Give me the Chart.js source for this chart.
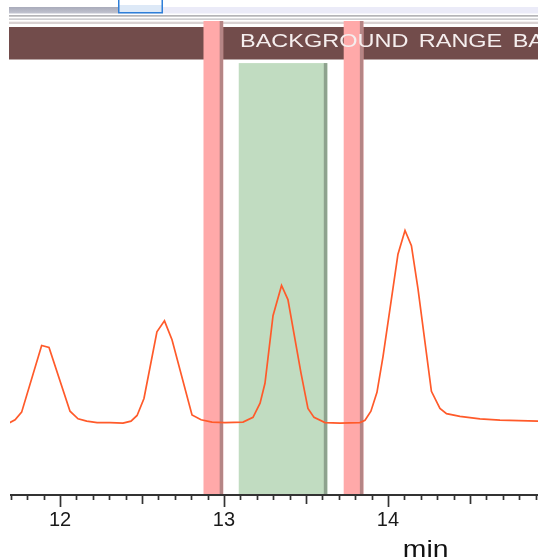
<!DOCTYPE html>
<html>
<head>
<meta charset="utf-8">
<script src="https://cdn.jsdelivr.net/npm/chart.js@4.4.1/dist/chart.umd.min.js"></script>
<style>
html,body{margin:0;padding:0;background:#fff;}
#wrap{width:538px;height:560px;position:relative;}
</style>
</head>
<body>
<div id="wrap"><canvas id="c" width="538" height="560"></canvas></div>
<script>
// retention time (min)
const times = [11.689, 11.726, 11.766, 11.888, 11.933, 12.061, 12.110, 12.163, 12.226, 12.305,
  12.384, 12.433, 12.470, 12.512, 12.591, 12.637, 12.683, 12.805, 12.860, 12.927,
  13.006, 13.116, 13.177, 13.220, 13.250, 13.299, 13.351, 13.390, 13.470, 13.512,
  13.549, 13.616, 13.707, 13.829, 13.860, 13.896, 13.933, 13.970, 14.061, 14.104,
  14.143, 14.183, 14.265, 14.317, 14.357, 14.439, 14.561, 14.683, 14.915];
// signal intensity (relative)
const intensity = [15.0, 15.7, 17.3, 31.4, 31.0, 17.5, 15.9, 15.4, 15.1, 15.1,
  15.0, 15.4, 16.6, 20.2, 34.3, 36.6, 32.6, 16.7, 15.7, 15.2,
  15.1, 15.2, 16.2, 19.2, 23.4, 37.7, 44.1, 41.1, 25.5, 18.1,
  16.2, 15.1, 15.0, 15.1, 15.6, 17.5, 21.5, 29.1, 50.7, 55.7,
  52.5, 43.4, 21.7, 18.1, 17.0, 16.4, 15.9, 15.6, 15.4];
// background range bands (start, end) in min
const backgroundBands = [[12.875, 12.995], [13.73, 13.85]];
// integration (peak) range band
const peakBands = [[13.09, 13.63]];
// major tick labels
const majorTicks = [12, 13, 14];
const bandTitle = 'BACKGROUND RANGE BAND';
const axisTitle = 'min';

const FONT = "'Liberation Sans', Arial, sans-serif";
const X_MIN = 11.695, X_MAX = 14.915;
const PEAK_BAND_TOP = 91.1; // y-value where the green band starts

const decor = {
  id: 'decor',
  beforeDraw(chart) {
    const ctx = chart.ctx;
    ctx.save();
    ctx.fillStyle = '#ffffff';
    ctx.fillRect(0, 0, chart.width, chart.height);
    // toolbar strip
    const g = ctx.createLinearGradient(0, 7, 0, 13.5);
    g.addColorStop(0, '#a9abba');
    g.addColorStop(1, '#c2c4d0');
    ctx.fillStyle = g;
    ctx.fillRect(9, 7, 109, 6.5);
    ctx.fillStyle = '#ebebf8';
    ctx.fillRect(163, 7, 375, 6.5);
    ctx.fillStyle = '#dde9f7';
    ctx.fillRect(118, 5, 45, 8.5);
    ctx.strokeStyle = '#2f7fd8';
    ctx.lineWidth = 1.5;
    ctx.beginPath();
    ctx.moveTo(118.75, 0); ctx.lineTo(118.75, 12.75); ctx.lineTo(162.25, 12.75); ctx.lineTo(162.25, 0);
    ctx.stroke();
    // separator lines
    ctx.fillStyle = '#b5b5b8'; ctx.fillRect(9, 15, 529, 1.7);
    ctx.fillStyle = '#cfcfd2'; ctx.fillRect(9, 18.3, 529, 1.7);
    ctx.fillStyle = '#d9d2d2'; ctx.fillRect(9, 21.7, 529, 2.3);
    // brown band
    ctx.fillStyle = '#724c4b';
    ctx.fillRect(9, 27, 529, 32.5);
    ctx.restore();
  },
  beforeDatasetsDraw(chart) {
    const ctx = chart.ctx, xs = chart.scales.x, ys = chart.scales.y, ca = chart.chartArea;
    ctx.save();
    // peak band
    const gTop = ys.getPixelForValue(PEAK_BAND_TOP);
    peakBands.forEach(([a, b]) => {
      const x0 = xs.getPixelForValue(a), x1 = xs.getPixelForValue(b);
      ctx.fillStyle = '#c1dcc1';
      ctx.fillRect(x0, gTop, x1 - x0, ca.bottom - gTop);
      ctx.fillStyle = '#8ea28e';
      ctx.fillRect(x1 - 3.5, gTop, 3.5, ca.bottom - gTop);
    });
    // background bands
    backgroundBands.forEach(([a, b]) => {
      const x0 = xs.getPixelForValue(a), x1 = xs.getPixelForValue(b);
      ctx.fillStyle = '#ffa9a9';
      ctx.fillRect(x0, ca.top, x1 - x0, ca.bottom - ca.top);
      ctx.fillStyle = '#b58585';
      ctx.fillRect(x1 - 3.5, ca.top, 3.5, ca.bottom - ca.top);
    });
    // band title text (horizontally stretched like the source)
    ctx.fillStyle = '#f5eeee';
    ctx.font = '18.5px ' + FONT;
    ctx.textBaseline = 'middle';
    ctx.textAlign = 'left';
    try { ctx.wordSpacing = '3px'; } catch (e) {}
    ctx.translate(240, 42);
    ctx.scale(1.27, 1);
    ctx.fillText(bandTitle, 0, 0);
    ctx.restore();
  },
  afterDraw(chart) {
    const ctx = chart.ctx, xs = chart.scales.x, ca = chart.chartArea;
    ctx.save();
    ctx.strokeStyle = '#333333';
    ctx.lineWidth = 2;
    ctx.beginPath();
    ctx.moveTo(ca.left, ca.bottom + 1); ctx.lineTo(ca.right, ca.bottom + 1);
    ctx.stroke();
    ctx.lineWidth = 1.7;
    for (let i = Math.ceil(X_MIN * 10); i <= Math.floor(X_MAX * 10); i++) {
      const x = Math.round(xs.getPixelForValue(i / 10)) + 0.5;
      const len = (i % 10 === 0) ? 12 : (i % 5 === 0 ? 9 : 5);
      ctx.beginPath();
      ctx.moveTo(x, ca.bottom);
      ctx.lineTo(x, ca.bottom + 1 + len);
      ctx.stroke();
    }
    ctx.fillStyle = '#111';
    ctx.font = '24px ' + FONT;
    ctx.textBaseline = 'alphabetic';
    ctx.textAlign = 'center';
    ctx.translate(xs.getPixelForValue(14.23), 557);
    ctx.scale(1.18, 1);
    ctx.fillText(axisTitle, 0, 0);
    ctx.restore();
  }
};

new Chart(document.getElementById('c'), {
  type: 'line',
  data: {
    datasets: [{
      data: times.map((t, i) => ({ x: t, y: intensity[i] })),
      borderColor: '#ff5a2a',
      borderWidth: 1.7,
      pointRadius: 0,
      tension: 0,
      fill: false
    }]
  },
  options: {
    responsive: false,
    animation: false,
    devicePixelRatio: 1,
    layout: { padding: { top: 21, left: 10, right: 0, bottom: 26 } },
    plugins: { legend: { display: false }, tooltip: { enabled: false } },
    scales: {
      x: {
        type: 'linear',
        min: X_MIN, max: X_MAX,
        border: { display: false },
        grid: { display: true, drawOnChartArea: false, drawTicks: true, tickLength: 12, tickColor: 'rgba(0,0,0,0)' },
        ticks: {
          stepSize: 0.1,
          autoSkip: false,
          includeBounds: false,
          maxRotation: 0,
          padding: 2,
          color: '#1a1a1a',
          font: { family: FONT, size: 20 },
          callback: (v) => {
            const r = Math.round(v);
            return (Math.abs(v - r) < 1e-6 && majorTicks.includes(r)) ? String(r) : '';
          }
        }
      },
      y: { display: false, min: 0, max: 100 }
    }
  },
  plugins: [decor]
});
</script>
</body>
</html>
